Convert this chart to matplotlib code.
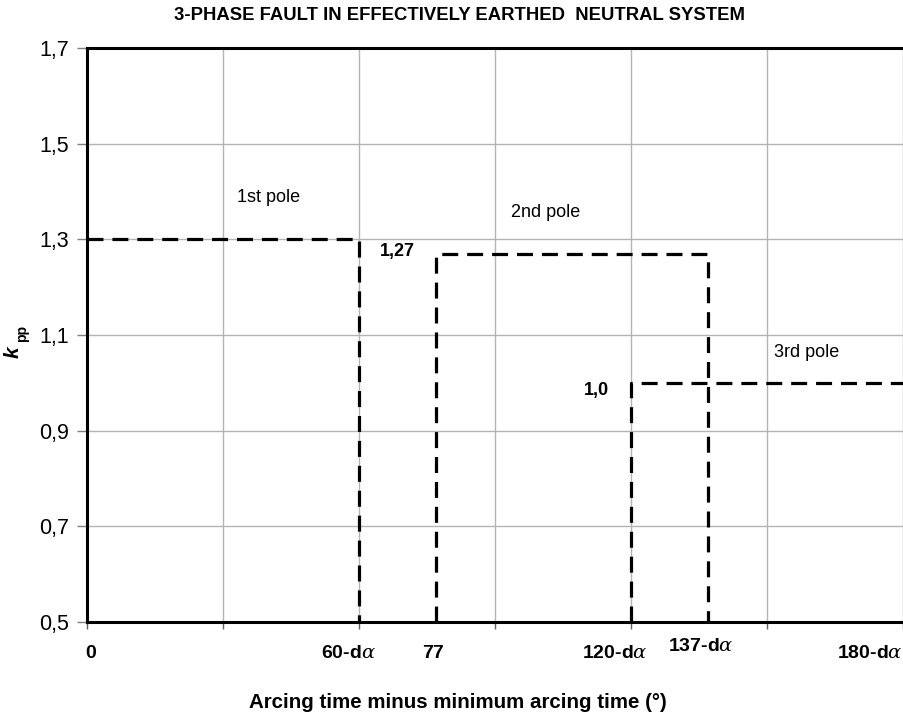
import matplotlib
matplotlib.use("Agg")
import matplotlib.pyplot as plt
import matplotlib.transforms as mtransforms

plt.rcParams['font.family'] = ['Liberation Sans', 'DejaVu Sans']
plt.rcParams['mathtext.fontset'] = 'custom'
plt.rcParams['mathtext.it'] = 'DejaVu Serif:italic'

# Pole recovery voltage steps (x in degrees, y = k_pp)
pole1_x = [0, 60, 60]
pole1_y = [1.3, 1.3, 0.5]
pole2_x = [77, 77, 137, 137]
pole2_y = [0.5, 1.27, 1.27, 0.5]
pole3_x = [120, 120, 180]
pole3_y = [0.5, 1.0, 1.0]

pole_names = ["1st pole", "2nd pole", "3rd pole"]
step_labels = ["1,27", "1,0"]

y_ticks = [0.5, 0.7, 0.9, 1.1, 1.3, 1.5, 1.7]
y_ticklabels = ["0,5", "0,7", "0,9", "1,1", "1,3", "1,5", "1,7"]
x_grid = [0, 30, 60, 90, 120, 150, 180]
x_labels = ["0", r"60-d$\alpha$", "77", r"120-d$\alpha$", r"137-d$\alpha$", r"180-d$\alpha$"]

fig = plt.figure(figsize=(9.04, 7.2), dpi=100)
ax = fig.add_axes([0.0962, 0.1361, 0.9027, 0.7972])

ax.set_xlim(0, 180)
ax.set_ylim(0.5, 1.7)
ax.set_xticks(x_grid)
ax.set_xticklabels([])
ax.set_yticks(y_ticks)
ax.set_yticklabels(y_ticklabels, fontsize=15.5)
ax.grid(True, color='#b4b4b4', linewidth=1.0)
ax.set_axisbelow(True)
ax.tick_params(axis='y', length=7, width=1, color='#808080', pad=6)
ax.tick_params(axis='x', length=5, width=1, color='#606060')

for side in ['left', 'bottom', 'top']:
    ax.spines[side].set_linewidth(2.2)
    ax.spines[side].set_color('black')
ax.spines['right'].set_visible(False)

dash = dict(color='black', linewidth=2.3, linestyle=(0, (5, 2.8)))
ax.plot(pole1_x, pole1_y, **dash)
ax.plot(pole2_x, pole2_y, **dash)
ax.plot(pole3_x, pole3_y, **dash)

ax.text(33.0, 1.387, pole_names[0], fontsize=13, va='center', ha='left')
ax.text(93.6, 1.356, pole_names[1], fontsize=13, va='center', ha='left')
ax.text(151.5, 1.063, pole_names[2], fontsize=13, va='center', ha='left')
ax.text(64.5, 1.274, step_labels[0], fontsize=13, fontweight='bold', va='center', ha='left')
ax.text(109.7, 0.985, step_labels[1], fontsize=13, fontweight='bold', va='center', ha='left')

# Characteristic angle labels below the axis
trans = mtransforms.blended_transform_factory(ax.transData, ax.transAxes)
label_pos = [0.7, 57.7, 76.4, 116.5, 135.5, 172.7]
label_y = [-0.054, -0.054, -0.054, -0.054, -0.042, -0.054]
for xp, yp, s in zip(label_pos, label_y, x_labels):
    ax.text(xp, yp, s, transform=trans, fontsize=14, fontweight='bold',
            ha='center', va='center')

fig.text(460 / 904, 1 - 15 / 720, "3-PHASE FAULT IN EFFECTIVELY EARTHED  NEUTRAL SYSTEM",
         fontsize=13.3, fontweight='bold', ha='center', va='center')
fig.text(458 / 904, 1 - 703 / 720, "Arcing time minus minimum arcing time (°)",
         fontsize=14.8, fontweight='bold', ha='center', va='center')

# y-axis label: k with subscript pp
fig.text(13 / 904, 1 - 352 / 720, "k", fontsize=15, fontweight='bold', fontstyle='italic',
         rotation=90, ha='center', va='center')
fig.text(22 / 904, 1 - 334 / 720, "pp", fontsize=10, fontweight='bold',
         rotation=90, ha='center', va='center')

fig.savefig("out.png", dpi=100)
